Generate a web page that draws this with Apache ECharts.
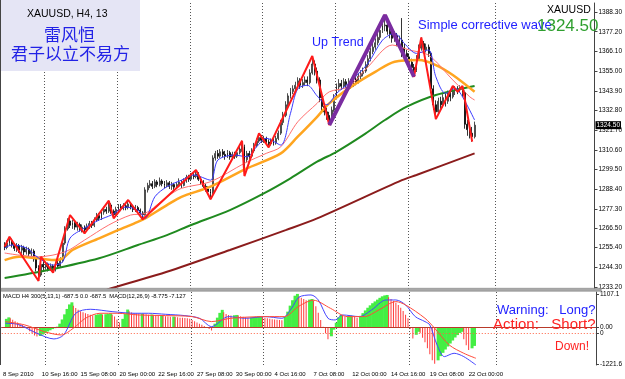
<!DOCTYPE html>
<html>
<head>
<meta charset="utf-8">
<script src="https://cdn.jsdelivr.net/npm/echarts@6/dist/echarts.min.js"></script>
<style>
html, body { margin: 0; padding: 0; background: #fff; }
#chart { width: 625px; height: 379px; }
</style>
</head>
<body>
<div id="chart"></div>
<script>
// XAUUSD H4 bars: [open, close, low, high]
const candles = [
  [1257.0,1255.5,1254.0,1258.5],[1255.5,1258.0,1254.5,1259.5],[1258.0,1259.5,1256.5,1261.6],[1259.5,1257.0,1255.5,1260.5],
  [1257.0,1255.0,1253.5,1258.0],[1255.0,1256.5,1253.0,1258.0],[1256.5,1254.0,1252.5,1257.5],[1254.0,1255.5,1252.0,1257.0],
  [1255.5,1253.0,1251.0,1256.5],[1253.0,1254.5,1251.5,1256.0],[1254.5,1252.0,1250.0,1255.5],[1252.0,1253.5,1250.5,1255.0],
  [1253.5,1249.0,1247.5,1254.5],[1249.0,1244.0,1242.0,1250.0],[1244.0,1240.0,1236.6,1245.5],[1240.0,1246.0,1239.0,1250.3],
  [1246.0,1244.5,1242.5,1248.0],[1244.5,1246.0,1243.0,1247.5],[1246.0,1243.5,1242.0,1247.0],[1243.5,1245.0,1242.5,1246.5],
  [1245.0,1243.0,1241.3,1246.0],[1243.0,1246.5,1242.0,1247.5],[1246.5,1245.0,1243.5,1248.0],[1245.0,1248.0,1244.0,1250.0],
  [1248.0,1258.0,1247.0,1259.5],[1258.0,1266.0,1257.0,1267.5],[1266.0,1270.5,1265.0,1272.0],[1270.5,1268.0,1266.5,1273.8],
  [1268.0,1269.5,1266.0,1271.0],[1269.5,1267.0,1265.5,1270.5],[1267.0,1268.5,1265.0,1270.0],[1268.5,1266.0,1264.5,1269.5],
  [1266.0,1267.0,1264.0,1268.5],[1267.0,1265.5,1263.5,1268.0],[1265.5,1267.5,1264.5,1269.0],[1267.5,1269.0,1266.0,1270.5],
  [1269.0,1268.0,1266.5,1270.5],[1268.0,1271.0,1267.0,1272.5],[1271.0,1273.5,1270.0,1275.0],[1273.5,1272.0,1270.5,1275.0],
  [1272.0,1275.5,1271.0,1277.0],[1275.5,1277.0,1274.0,1278.5],[1277.0,1276.0,1274.5,1278.5],[1276.0,1279.5,1275.0,1281.9],
  [1279.5,1276.0,1274.5,1280.5],[1276.0,1274.0,1272.0,1277.0],[1274.0,1277.0,1273.0,1278.5],[1277.0,1278.5,1275.5,1280.0],
  [1278.5,1277.5,1276.0,1280.0],[1277.5,1279.0,1276.5,1280.5],[1279.0,1278.0,1276.5,1280.5],[1278.0,1280.0,1277.0,1282.3],
  [1280.0,1278.5,1277.0,1281.0],[1278.5,1277.0,1275.5,1279.5],[1277.0,1278.0,1275.5,1279.5],[1278.0,1276.5,1275.0,1279.0],
  [1276.5,1275.0,1273.5,1277.5],[1275.0,1274.0,1271.4,1276.0],[1274.0,1288.0,1273.5,1289.5],[1288.0,1290.5,1286.5,1292.0],
  [1290.5,1291.5,1289.0,1293.5],[1291.5,1290.0,1288.5,1293.0],[1290.0,1292.5,1289.0,1294.0],[1292.5,1291.0,1289.5,1293.5],
  [1291.0,1293.0,1290.0,1295.0],[1293.0,1291.5,1290.0,1294.0],[1291.5,1290.5,1289.0,1293.0],[1290.5,1292.0,1289.5,1293.5],
  [1292.0,1290.0,1288.5,1293.0],[1290.0,1291.0,1288.0,1292.5],[1291.0,1289.5,1288.0,1292.0],[1289.5,1291.0,1288.5,1292.5],
  [1291.0,1292.5,1290.0,1294.5],[1292.5,1290.5,1289.0,1293.5],[1290.5,1293.0,1290.0,1294.5],[1293.0,1295.0,1292.0,1296.5],
  [1295.0,1294.0,1292.5,1296.5],[1294.0,1296.0,1293.0,1297.5],[1296.0,1295.5,1294.0,1297.5],[1295.5,1297.0,1294.5,1299.2],
  [1297.0,1294.0,1293.0,1298.0],[1294.0,1292.5,1291.0,1295.5],[1292.5,1290.0,1289.0,1293.5],[1290.0,1288.5,1287.0,1291.5],
  [1288.5,1287.0,1285.5,1290.0],[1287.0,1286.0,1282.7,1288.5],[1286.0,1306.0,1285.5,1307.5],[1306.0,1308.5,1304.5,1310.0],
  [1308.5,1307.0,1305.5,1310.5],[1307.0,1309.5,1306.0,1311.0],[1309.5,1308.0,1306.5,1311.0],[1308.0,1307.0,1305.0,1310.0],
  [1307.0,1309.0,1306.0,1310.5],[1309.0,1306.5,1305.0,1310.0],[1306.5,1308.0,1305.5,1309.5],[1308.0,1307.0,1305.5,1309.5],
  [1307.0,1309.0,1306.0,1310.5],[1309.0,1311.0,1308.0,1312.5],[1311.0,1312.5,1309.5,1315.7],[1312.5,1305.0,1295.8,1313.5],
  [1305.0,1308.5,1303.5,1310.0],[1308.5,1307.0,1305.5,1310.0],[1307.0,1310.0,1306.0,1311.5],[1310.0,1313.0,1309.0,1314.5],
  [1313.0,1315.5,1312.0,1317.0],[1315.5,1317.5,1314.5,1319.9],[1317.5,1316.0,1314.5,1319.0],[1316.0,1317.0,1314.5,1318.5],
  [1317.0,1315.0,1313.5,1318.0],[1315.0,1314.0,1312.0,1316.5],[1314.0,1315.5,1313.0,1317.0],[1315.5,1314.5,1313.0,1317.0],
  [1314.5,1317.0,1313.5,1318.5],[1317.0,1320.0,1316.0,1321.5],[1320.0,1326.0,1319.0,1327.5],[1326.0,1330.0,1324.5,1332.0],
  [1330.0,1336.0,1329.0,1338.0],[1336.0,1341.0,1334.5,1342.5],[1341.0,1343.5,1339.5,1345.5],[1343.5,1345.0,1342.0,1347.0],
  [1345.0,1347.0,1343.5,1349.0],[1347.0,1349.5,1345.5,1351.5],[1349.5,1347.0,1345.0,1351.0],[1347.0,1348.5,1345.5,1350.5],
  [1348.5,1350.0,1347.0,1352.0],[1350.0,1348.5,1346.5,1352.0],[1348.5,1354.0,1347.5,1356.0],[1354.0,1359.0,1353.0,1363.5],
  [1359.0,1355.0,1352.5,1361.0],[1355.0,1350.0,1348.0,1357.0],[1350.0,1340.0,1337.5,1351.5],[1340.0,1335.0,1332.5,1342.0],
  [1335.0,1332.0,1330.0,1337.0],[1332.0,1330.0,1327.5,1334.5],[1330.0,1327.0,1324.6,1332.0],[1327.0,1333.0,1326.0,1335.0],
  [1333.0,1340.0,1332.0,1342.0],[1340.0,1346.0,1339.0,1348.0],[1346.0,1348.0,1344.0,1350.5],[1348.0,1346.5,1344.5,1350.0],
  [1346.5,1349.0,1345.0,1351.0],[1349.0,1347.5,1345.5,1350.5],[1347.5,1349.0,1344.5,1351.0],[1349.0,1347.0,1345.0,1350.5],
  [1347.0,1350.5,1346.0,1352.5],[1350.5,1349.0,1347.0,1352.0],[1349.0,1352.0,1348.0,1354.0],[1352.0,1353.5,1350.5,1355.5],
  [1353.5,1355.0,1352.0,1357.0],[1355.0,1358.5,1354.0,1360.5],[1358.5,1362.0,1357.0,1364.0],[1362.0,1366.0,1360.5,1368.0],
  [1366.0,1368.5,1364.5,1371.0],[1368.5,1371.0,1367.0,1373.5],[1371.0,1374.0,1369.5,1376.5],[1374.0,1378.0,1372.5,1380.5],
  [1378.0,1380.5,1376.5,1383.0],[1380.5,1381.0,1377.5,1386.6],[1381.0,1377.5,1375.5,1383.0],[1377.5,1376.0,1373.5,1380.0],
  [1376.0,1373.5,1371.0,1378.0],[1373.5,1375.0,1371.5,1377.5],[1375.0,1371.0,1369.0,1376.5],[1371.0,1372.5,1369.5,1375.0],
  [1372.5,1368.0,1362.9,1384.9],[1368.0,1365.0,1363.0,1370.5],[1365.0,1363.0,1360.5,1367.0],[1363.0,1360.0,1358.0,1365.0],
  [1360.0,1357.0,1355.0,1362.0],[1357.0,1355.5,1351.8,1359.0],[1355.5,1362.0,1354.5,1364.0],[1362.0,1368.0,1361.0,1370.0],
  [1368.0,1370.5,1366.5,1374.0],[1370.5,1367.0,1365.0,1372.0],[1367.0,1368.5,1365.5,1370.5],[1368.5,1365.0,1363.0,1370.0],
  [1365.0,1345.0,1342.5,1366.0],[1345.0,1336.0,1333.0,1347.0],[1336.0,1332.0,1327.9,1338.5],[1332.0,1338.0,1330.5,1340.0],
  [1338.0,1336.0,1333.5,1340.5],[1336.0,1340.0,1334.5,1342.0],[1340.0,1338.0,1335.0,1342.5],[1338.0,1342.0,1336.5,1344.0],
  [1342.0,1340.5,1338.0,1344.0],[1340.5,1344.0,1339.5,1346.6],[1344.0,1345.0,1341.5,1346.5],[1345.0,1344.5,1342.0,1346.5],
  [1344.5,1346.0,1343.0,1347.0],[1346.0,1343.0,1340.5,1346.6],[1343.0,1325.0,1322.5,1344.0],[1325.0,1322.0,1318.5,1327.5],
  [1322.0,1320.0,1317.0,1326.0],[1320.0,1318.0,1315.2,1323.5],[1318.0,1324.5,1317.0,1326.5]
];
const lastPrice = 1324.50;

// moving averages as [bar, price]
const maBlue = [[0,1255.2],[3,1256.9],[9,1255.2],[14,1249.6],[20,1245.6],[24,1247.5],[27,1260.8],[33,1266.5],[39,1271.0],
  [44,1273.8],[50,1278.3],[55,1276.6],[58,1271.9],[62,1284.1],[67,1289.8],[73,1293.5],[78,1296.4],[85,1293.5],[88,1304.8],
  [95,1307.6],[100,1306.7],[104,1312.3],[108,1317.1],[114,1313.3],[118,1331.2],[121,1345.0],[125,1347.0],[129,1341.0],
  [133,1336.0],[137,1342.4],[142,1348.1],[150,1359.4],[156,1372.5],[161,1376.3],[165,1370.6],[170,1365.0],[175,1366.9],
  [178,1351.8],[182,1342.4],[186,1345.3],[189,1340.5],[194,1327.4]];
const maPink = [[0,1252.4],[6,1251.2],[14,1250.3],[25,1253.1],[33,1259.7],[43,1268.2],[52,1273.8],[58,1274.8],[67,1284.1],
  [73,1288.9],[85,1292.6],[99,1303.0],[108,1308.6],[114,1312.3],[121,1326.4],[129,1336.8],[134,1343.3],[142,1346.2],
  [150,1357.4],[160,1369.7],[167,1366.9],[175,1364.0],[185,1350.0],[192,1340.5],[194,1338.7]];
const maOrange = [[0,1248.4],[6,1250.3],[14,1249.4],[20,1248.4],[24,1249.4],[28,1254.1],[39,1260.7],[47,1265.4],[55,1270.0],
  [58,1271.9],[67,1279.4],[73,1284.1],[85,1289.8],[100,1300.1],[114,1308.6],[121,1318.0],[129,1329.2],[134,1336.8],
  [144,1347.1],[153,1354.6],[161,1360.3],[171,1361.2],[178,1358.4],[185,1352.8],[194,1343.3]];
const maGreen = [[0,1238.3],[18,1242.8],[39,1249.4],[55,1256.9],[67,1262.5],[77,1268.2],[93,1276.6],[107,1286.0],
  [118,1294.5],[129,1303.9],[137,1309.5],[148,1318.9],[157,1327.4],[166,1334.9],[178,1341.5],[194,1346.6]];
const maMaroon = [[39,1229.8],[44,1232.5],[67,1241.8],[93,1254.1],[116,1265.3],[129,1271.9],[164,1293.5],[170,1296.4],[194,1308.6]];

// zigzag turning points and the hand drawn wave
const zigzag = [[0,1256.0],[2,1261.6],[14,1236.6],[15,1250.3],[20,1241.3],[27,1273.8],[33,1263.5],[43,1281.9],[45,1272.0],
  [51,1282.3],[57,1271.4],[79,1299.2],[85,1282.7],[98,1315.7],[99,1295.8],[105,1319.9],[109,1312.0],[127,1363.5],
  [134,1324.6],[157,1386.6],[169,1351.8],[172,1374.0],[178,1327.9],[185,1346.6],[187,1343.3],[189,1346.6],[193,1315.2]];
const wave = [[134,1324.6],[157,1386.6],[169,1351.8]];

// MACD pane
const macdHist = [280,330,300,250,200,160,120,80,40,-40,-130,-210,-270,-310,-290,-240,-190,-140,-100,-60,
  -30,20,120,260,430,610,760,830,720,640,580,530,500,470,440,420,400,415,430,440,
  420,435,450,460,420,360,260,160,280,440,590,530,490,470,460,450,455,440,430,420,
  425,410,400,390,395,380,370,360,350,355,340,330,320,315,305,300,280,240,200,160,
  120,80,40,0,-60,-110,120,320,480,580,500,440,410,390,400,410,390,370,350,330,
  320,330,340,350,355,360,340,320,300,280,270,260,250,240,230,350,520,720,900,1050,
  1110,1020,980,940,900,920,940,880,700,480,240,20,-200,-400,-300,-80,150,330,410,380,
  350,370,390,360,340,320,380,470,560,650,730,800,860,920,980,1030,1060,1075,1000,940,
  880,820,740,650,540,420,300,-50,-370,-250,-150,-200,-350,-500,-700,-900,-1100,-1210,-1100,-960,
  -850,-740,-640,-540,-440,-340,-260,-190,-150,-400,-600,-754,-700,-620];
const macdMain = [[0,133],[5,100],[13,-200],[20,-388],[24,-255],[29,466],[35,599],[44,521],[53,466],[59,466],[66,432],
  [74,388],[80,300],[85,22],[92,355],[99,300],[107,355],[114,300],[118,632],[121,1000],[126,1075],[129,909],[133,300],
  [136,244],[139,410],[146,355],[151,577],[157,909],[161,909],[165,743],[169,355],[173,189],[175,78],[178,-588],
  [181,-976],[185,-865],[189,-976],[194,-1253]];
const macdSignal = [[0,188],[8,78],[16,-144],[23,-255],[28,-33],[33,300],[39,466],[46,466],[55,410],[66,388],[77,355],
  [85,189],[93,300],[107,355],[115,355],[121,700],[127,900],[134,632],[141,355],[148,355],[154,577],[161,854],[165,743],
  [173,300],[177,-33],[183,-588],[189,-865],[194,-1031]];
const signalZero = -190;

// axes
const priceTicks = [1233.2,1244.3,1255.4,1266.5,1277.3,1288.4,1299.5,1310.6,1321.7,1332.8,1343.9,1355.0,1366.1,1377.2,1388.3];
const macdTicks = [1107.1, 0, signalZero, -1221.6];
const macdTickText = ['1107.1', '0.00', '0', '-1221.6'];
const dateLabels = ['8 Sep 2010','10 Sep 16:00','15 Sep 08:00','20 Sep 00:00','22 Sep 16:00','27 Sep 08:00','30 Sep 00:00',
  '4 Oct 16:00','7 Oct 08:00','12 Oct 00:00','14 Oct 16:00','19 Oct 08:00','22 Oct 00:00'];
const LABEL_STEP = 16;
const gridLines = [18, 48, 78, 108, 138, 168, 204];
const SLOTS = 245;
const OFF = 1;

const SMALL = '"Liberation Sans", Arial, sans-serif';
const SANS = '"Liberation Sans", Arial, sans-serif';

const slots = Array.from({ length: SLOTS }, (_, k) => String(k));
const shift = arr => arr.map(p => [p[0] + OFF, p[1]]);

const histUp = [], histDown = [];
macdHist.forEach((v, i) => {
  if (i === 0 || v >= macdHist[i - 1]) histUp.push([i + OFF, v]);
  else histDown.push([i + OFF, v]);
});

function lineSeries(data, color, width, z, smooth) {
  return {
    type: 'line', xAxisIndex: 0, yAxisIndex: 0, data: shift(data),
    symbol: 'none', smooth: smooth, z: z, silent: true,
    lineStyle: { color: color, width: width }
  };
}

const xBase = {
  type: 'category', data: slots, boundaryGap: true,
  axisTick: { show: false },
  splitLine: {
    show: true,
    interval: idx => gridLines.indexOf(idx) >= 0,
    lineStyle: { color: '#555', width: 1, type: [1, 2] }
  }
};

function txt(left, top, text, size, fill, family) {
  return { type: 'text', left: left, top: top, z: 100,
    style: { text: text, fill: fill, font: size + 'px ' + (family || SANS) } };
}

const chart = echarts.init(document.getElementById('chart'), null, { renderer: 'canvas' });
chart.setOption({
  animation: false,
  backgroundColor: '#fff',
  grid: [
    { left: 1, right: 24, top: 3, height: 286 },
    { left: 1, right: 24, top: 292, height: 73 }
  ],
  xAxis: [
    Object.assign({}, xBase, { gridIndex: 0, axisLine: { show: false }, axisLabel: { show: false } }),
    Object.assign({}, xBase, {
      gridIndex: 1,
      axisLine: { show: true, lineStyle: { color: '#444' } },
      axisLabel: {
        interval: idx => idx % LABEL_STEP === 0 && idx / LABEL_STEP < dateLabels.length,
        formatter: (v, idx) => dateLabels[idx / LABEL_STEP] || '',
        align: 'left', fontSize: 6, fontFamily: SMALL, color: '#000', margin: 6, hideOverlap: false
      }
    })
  ],
  yAxis: [
    {
      gridIndex: 0, type: 'value', position: 'right', min: 1232.1, max: 1393.4,
      splitLine: { show: false },
      axisLine: { show: true, lineStyle: { color: '#444' } },
      axisTick: { show: true, length: 3, customValues: priceTicks, lineStyle: { color: '#444' } },
      axisLabel: { customValues: priceTicks, formatter: v => v.toFixed(2), fontSize: 6.5, fontFamily: SMALL, color: '#000', margin: 4 }
    },
    {
      gridIndex: 1, type: 'value', position: 'right', min: -1254.9, max: 1173.6,
      splitLine: { show: false },
      axisLine: { show: true, lineStyle: { color: '#444' } },
      axisTick: { show: true, length: 3, customValues: macdTicks, lineStyle: { color: '#444' } },
      axisLabel: {
        customValues: macdTicks, hideOverlap: false,
        formatter: v => { const k = macdTicks.findIndex(t => Math.abs(t - v) < 1e-6); return k >= 0 ? macdTickText[k] : ''; },
        fontSize: 6.5, fontFamily: SMALL, color: '#000', margin: 4
      }
    }
  ],
  graphic: [
    { type: 'rect', left: 0, top: 0, z: 90, shape: { width: 140, height: 71 }, style: { fill: '#e5e5f5' } },
    { type: 'rect', left: 0, top: 0, z: 91, shape: { width: 1, height: 365 }, style: { fill: '#444' } },
    { type: 'rect', left: 1, top: 288, z: 91, shape: { width: 600, height: 3 }, style: { fill: '#a8a8a8', stroke: '#777', lineWidth: 0.5 } },
    txt(27, 9, 'XAUUSD, H4, 13', 10.5, '#000'),
    txt(44, 26, '雷风恒', 17, '#2222e6', '"Noto Sans CJK SC"'),
    txt(11, 45, '君子以立不易方', 17, '#2222e6', '"Noto Sans CJK SC"'),
    txt(547, 5, 'XAUUSD', 10.5, '#000'),
    txt(312, 36, 'Up Trend', 12.5, '#2222ff'),
    txt(418, 19, 'Simple corrective wave', 13, '#2222ff'),
    txt(537, 18, '1324.50', 17, '#2f9f2f'),
    txt(3, 293.5, 'MACD H4 300(5,13,1) -687.5 0.0 -687.5  MACD(12,26,9) -8.775 -7.127', 5.8, '#000', SMALL),
    txt(497, 304, 'Warning:   Long?', 13, '#2222ff'),
    txt(493, 317, 'Action:   Short?', 15, '#ff2222'),
    txt(555, 341, 'Down!', 12, '#ff2222')
  ],
  series: [
    {
      type: 'candlestick', xAxisIndex: 0, yAxisIndex: 0, silent: true, z: 2,
      data: candles.map((c, i) => [i + OFF, c[0], c[1], c[2], c[3]]),
      encode: { x: 0, y: [1, 2, 3, 4] },
      barWidth: 1.4,
      itemStyle: { color: '#fff', color0: '#000', borderColor: '#222', borderColor0: '#000', borderWidth: 0.8 },
      markLine: {
        silent: true, symbol: 'none',
        lineStyle: { color: 'rgba(0,0,0,0)', width: 1 },
        label: { show: true, position: 'end', distance: 1, formatter: lastPrice.toFixed(2), color: '#fff', backgroundColor: '#000',
          fontSize: 6.5, fontFamily: SMALL, padding: [1, 1, 0, 1], opacity: 1 },
        data: [{ yAxis: lastPrice }]
      }
    },
    lineSeries(maMaroon, '#8b1c1c', 2, 3, 0.3),
    lineSeries(maGreen, '#1f8a1f', 2, 3, 0.3),
    lineSeries(maOrange, '#ffa51f', 2.5, 4, 0.3),
    lineSeries(maPink, '#ff6f6f', 1, 4, 0.3),
    lineSeries(maBlue, '#3b3bff', 1, 5, 0.3),
    lineSeries(zigzag, '#ff1a1a', 2, 6, false),
    lineSeries(wave, '#7a2ca0', 4, 7, false),
    {
      type: 'bar', xAxisIndex: 1, yAxisIndex: 1, data: histUp, barWidth: 3, barGap: '-100%',
      silent: true, itemStyle: { color: '#44ee44' }, z: 2
    },
    {
      type: 'bar', xAxisIndex: 1, yAxisIndex: 1, data: histDown, barWidth: 1, barGap: '-100%',
      silent: true, itemStyle: { color: '#ff3a3a' }, z: 3,
      markLine: {
        silent: true, symbol: 'none', label: { show: false },
        data: [
          { yAxis: 0, lineStyle: { color: '#b83a2a', width: 1, type: 'solid' } },
          { yAxis: signalZero, lineStyle: { color: '#ff6040', width: 1, type: [1, 2] } }
        ]
      }
    },
    {
      type: 'line', xAxisIndex: 1, yAxisIndex: 1, data: shift(macdMain), symbol: 'none', smooth: 0.3,
      silent: true, z: 5, lineStyle: { color: '#4444ff', width: 1 }
    },
    {
      type: 'line', xAxisIndex: 1, yAxisIndex: 1, data: shift(macdSignal), symbol: 'none', smooth: 0.3,
      silent: true, z: 5, lineStyle: { color: '#ff4a3a', width: 1 }
    }
  ]
});
</script>
</body>
</html>
